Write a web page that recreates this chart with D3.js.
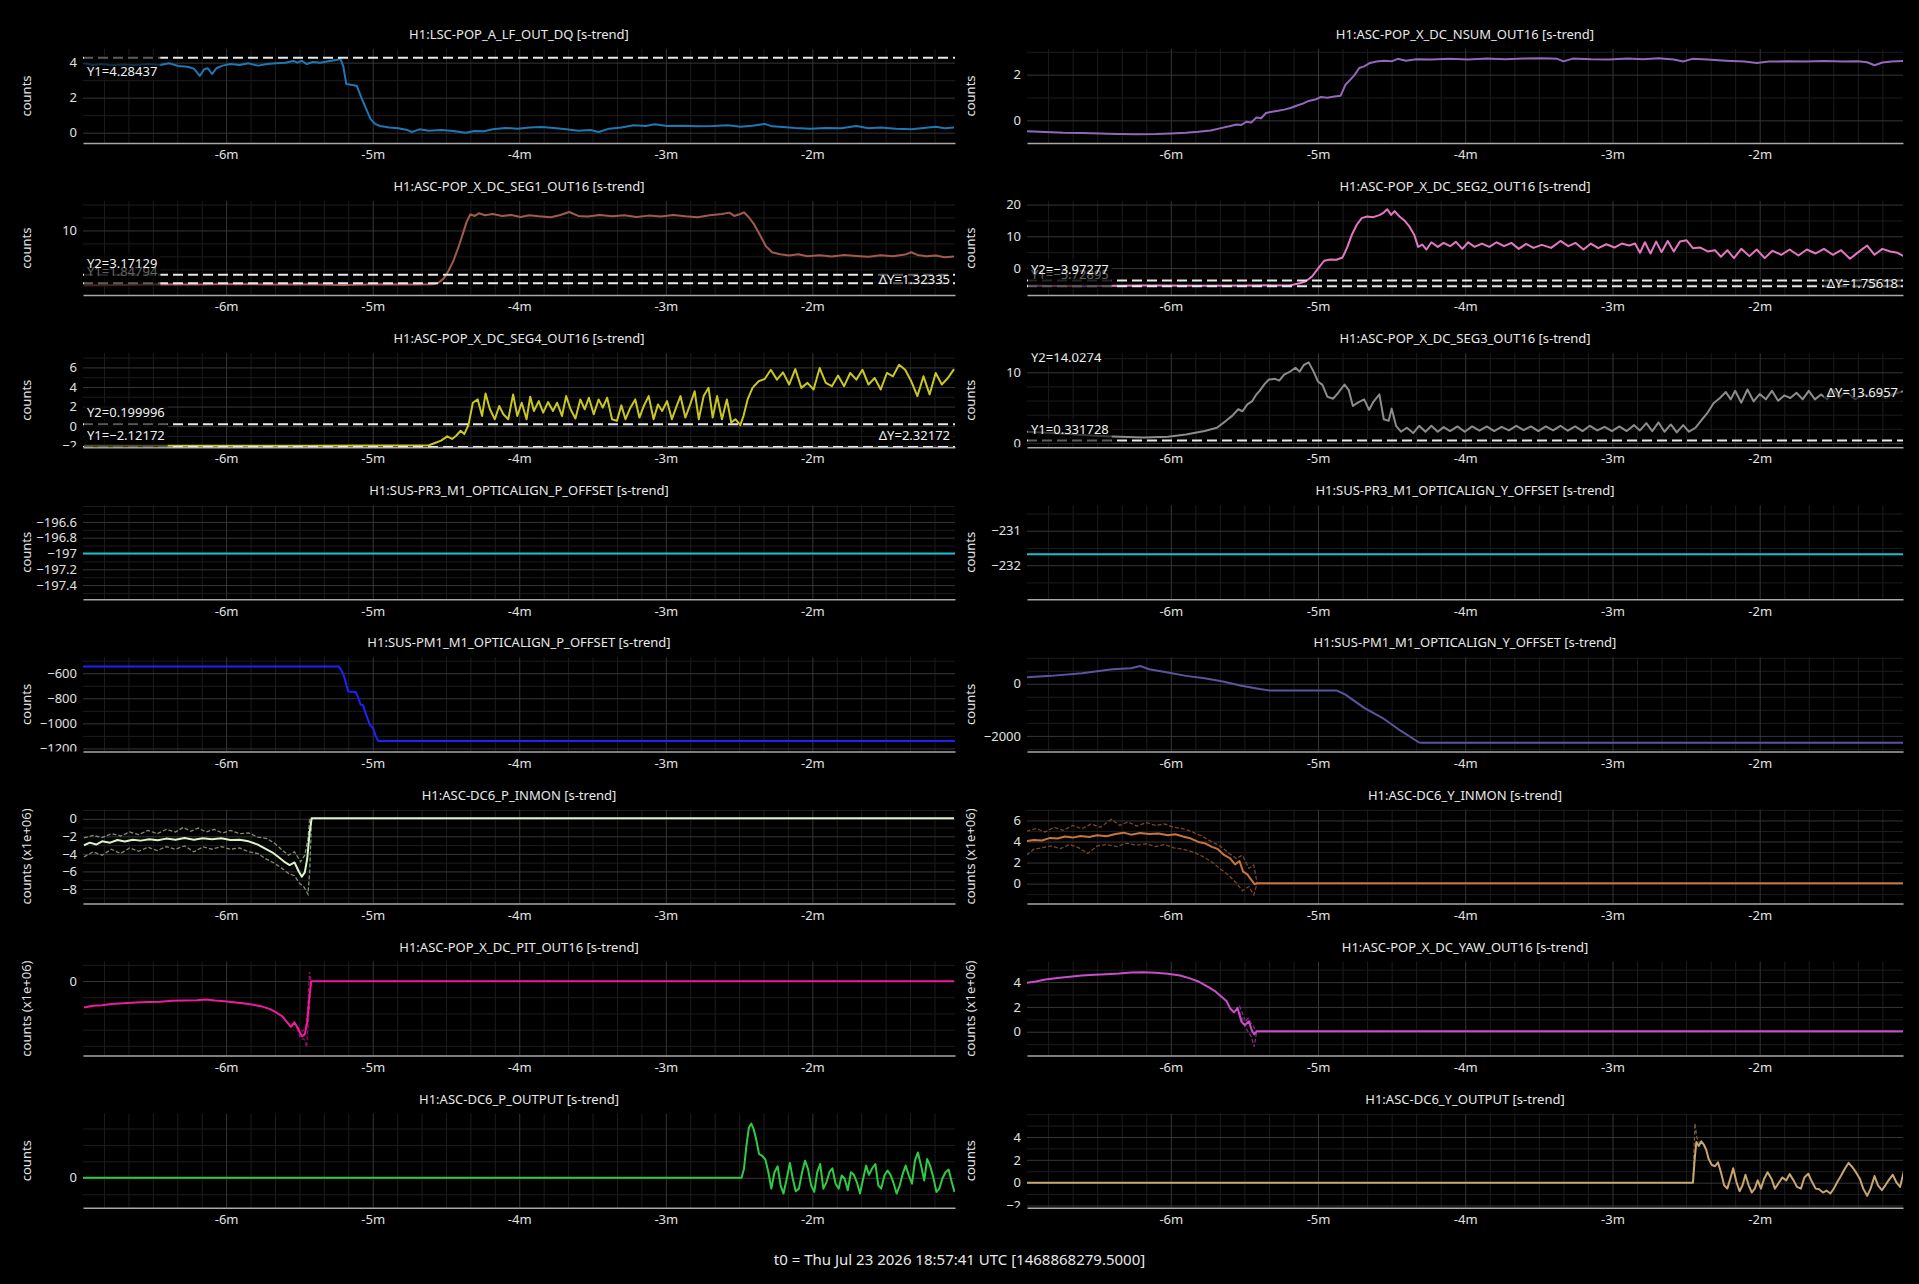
<!DOCTYPE html>
<html>
<head>
<meta charset="utf-8">
<script src="https://cdn.jsdelivr.net/npm/d3@7"></script>
<style>
  body { margin: 0; background: #000; }
  svg { display: block; }
</style>
</head>
<body>
<svg id="chart"></svg>
<script>
// time axis, seconds relative to t0
const xDomain = [-418.6, -61.6];
const xMajor = [-360, -300, -240, -180, -120];
const xMajorLabels = ["-6m", "-5m", "-4m", "-3m", "-2m"];
const footer = "t0 = Thu Jul 23 2026 18:57:41 UTC [1468868279.5000]";

const titles = [
  "H1:LSC-POP_A_LF_OUT_DQ [s-trend]", "H1:ASC-POP_X_DC_NSUM_OUT16 [s-trend]",
  "H1:ASC-POP_X_DC_SEG1_OUT16 [s-trend]", "H1:ASC-POP_X_DC_SEG2_OUT16 [s-trend]",
  "H1:ASC-POP_X_DC_SEG4_OUT16 [s-trend]", "H1:ASC-POP_X_DC_SEG3_OUT16 [s-trend]",
  "H1:SUS-PR3_M1_OPTICALIGN_P_OFFSET [s-trend]", "H1:SUS-PR3_M1_OPTICALIGN_Y_OFFSET [s-trend]",
  "H1:SUS-PM1_M1_OPTICALIGN_P_OFFSET [s-trend]", "H1:SUS-PM1_M1_OPTICALIGN_Y_OFFSET [s-trend]",
  "H1:ASC-DC6_P_INMON [s-trend]", "H1:ASC-DC6_Y_INMON [s-trend]",
  "H1:ASC-POP_X_DC_PIT_OUT16 [s-trend]", "H1:ASC-POP_X_DC_YAW_OUT16 [s-trend]",
  "H1:ASC-DC6_P_OUTPUT [s-trend]", "H1:ASC-DC6_Y_OUTPUT [s-trend]"
];

// ---- LSC-POP_A_LF
const lfT = [-418.2,-414.5,-410.8,-407,-402,-397,-392,-387,-383.2,-379.5,-375.8,-373.2,-370.8,-369,-367.5,-365.8,-364,-361.5,-358.2,-354.5,-350.8,-347,-343.2,-339.5,-335.8,-332.5,-330.8,-329,-327,-324.5,-321.5,-318.2,-315,-313.2,-312,-310.8,-308.2,-306.5,-304.5,-302.5,-300.8,-299,-297,-293.2,-289.5,-285.8,-284,-280.8,-277,-272,-267,-262,-258.2,-254.5,-250.8,-245.8,-240.8,-235.8,-230.8,-225.8,-220.8,-215.8,-210.8,-207.5,-203.2,-198.2,-193.2,-188.2,-184.5,-179.5,-173.2,-167,-160.8,-154.5,-149.5,-144.5,-139.5,-136.5,-132,-127,-120.8,-114.5,-108.2,-102,-97,-92,-85.8,-79.5,-74.5,-69.5,-65.8,-62];
const lfV = [3.96,3.87,3.92,3.85,3.90,3.87,3.92,3.87,3.96,3.81,3.77,3.66,3.24,3.62,3.68,3.35,3.68,3.83,3.92,3.87,3.96,3.83,3.92,3.96,4.00,4.10,4.00,4.11,3.92,4.04,4.00,4.08,4.15,4.21,3.77,2.78,2.72,2.67,1.96,1.30,0.76,0.50,0.38,0.30,0.25,0.15,0.04,0.19,0.11,0.15,0.10,0.00,0.10,0.08,0.19,0.27,0.23,0.29,0.32,0.27,0.19,0.11,0.15,0.04,0.23,0.30,0.42,0.38,0.48,0.38,0.40,0.36,0.38,0.42,0.34,0.40,0.50,0.36,0.32,0.27,0.23,0.27,0.25,0.38,0.25,0.29,0.23,0.19,0.27,0.34,0.25,0.29];

// ---- NSUM
const nsumT = [-418.8,-411.2,-403.8,-396.2,-388.8,-381.2,-373.8,-366.2,-360,-353.8,-348.8,-343.8,-340,-336.2,-333.2,-331.2,-329.2,-327.2,-325.2,-323.2,-321.2,-318.8,-316.2,-313.8,-311.2,-308.8,-306.2,-303.8,-301.2,-298.8,-296.2,-293.2,-290.8,-288.8,-286.8,-285,-283.2,-281.2,-278.8,-276.2,-273.2,-270,-267.5,-264.2,-260,-253.8,-246.2,-238.8,-231.2,-223.8,-216.2,-208.8,-202.5,-200,-196.2,-188.8,-181.2,-173.8,-167.5,-161.2,-155,-151.2,-147.5,-141.2,-133.8,-126.2,-121.2,-116.2,-108.8,-101.2,-93.8,-86.2,-80,-76.2,-73.2,-70,-66.2,-61];
const nsumV = [-0.48,-0.51,-0.54,-0.55,-0.58,-0.60,-0.61,-0.60,-0.57,-0.54,-0.50,-0.44,-0.35,-0.26,-0.18,-0.20,-0.06,-0.09,0.12,0.09,0.32,0.38,0.42,0.47,0.54,0.64,0.73,0.85,0.91,1.02,0.99,1.04,1.08,1.56,1.78,2.00,2.29,2.36,2.51,2.57,2.61,2.58,2.69,2.61,2.67,2.66,2.69,2.66,2.70,2.67,2.70,2.72,2.69,2.58,2.70,2.67,2.66,2.70,2.67,2.72,2.66,2.57,2.69,2.66,2.61,2.57,2.51,2.57,2.58,2.57,2.60,2.57,2.58,2.54,2.41,2.53,2.57,2.60];

// ---- SEG1
const seg1T = [-418.2,-402,-387,-372,-357,-342,-327,-312,-297,-282,-275,-273,-271,-269,-267,-265,-263,-261.5,-260,-258.2,-256.5,-254,-250.8,-247,-243.2,-239.5,-235.8,-232,-227,-223.2,-219.5,-215.8,-212,-207,-202,-197,-192,-187,-182,-177,-172,-167,-162,-157,-154,-152,-149.5,-148,-146,-144,-141.5,-139,-136.5,-133.2,-129.5,-125.8,-122,-117,-112,-107,-102,-97,-92,-87,-82,-79.5,-77,-73.2,-69.5,-65.8,-62];
const seg1V = [1.55,1.60,1.70,1.65,1.76,1.65,1.70,1.60,1.70,1.65,1.70,1.96,2.57,3.74,5.27,7.30,9.59,11.37,12.49,12.24,12.65,12.34,12.54,12.24,12.39,12.09,12.34,12.19,12.04,12.39,12.85,12.24,12.14,12.39,12.19,12.34,12.09,12.29,12.14,12.39,12.19,12.04,12.34,12.54,12.75,12.24,12.54,12.80,12.04,11.02,9.34,7.56,6.64,6.34,6.13,6.34,6.03,6.18,5.98,6.23,6.08,5.93,6.18,6.03,6.28,6.64,6.23,6.03,6.13,5.88,5.98];

// ---- SEG2
const seg2T = [-418.8,-396.2,-371.2,-346.2,-326.2,-311.2,-307.5,-305,-302.5,-300,-297.5,-295,-292.5,-290,-288.2,-286.2,-284.2,-282.2,-280,-277.5,-275,-273.2,-271.8,-270.2,-268.8,-266.8,-264.8,-262.8,-260.8,-259.2,-257.5,-255.8,-253.8,-251.2,-248.8,-246.2,-243.8,-241.2,-238.8,-236.2,-233.2,-230.2,-227.2,-224.2,-221.2,-218.2,-215.2,-212.2,-208.8,-205,-201.2,-198,-195,-191.8,-188.8,-185.8,-182.5,-179.2,-176.2,-173.2,-170.8,-168.8,-166.8,-164.5,-162.2,-160,-157.5,-155,-152.5,-149.8,-147.2,-144.2,-141.2,-138.2,-135.8,-133.2,-130.5,-127.5,-124.2,-121.2,-118,-114.8,-111.2,-107.8,-104.2,-100.8,-97.2,-93.8,-90.2,-86.8,-83.2,-79.8,-76.2,-73.2,-70,-66.8,-63.8,-61];
const seg2V = [-5.63,-5.73,-5.52,-5.63,-5.52,-5.42,-4.79,-4.17,-2.71,-0.21,2.29,2.71,2.60,3.33,6.35,10.52,13.65,15.73,16.25,16.04,16.67,17.50,18.54,16.77,17.92,16.25,15.00,13.12,10.52,6.67,7.40,5.83,8.12,6.67,7.92,6.88,8.23,6.04,8.12,6.67,7.71,6.67,8.12,6.88,7.92,6.04,7.60,6.35,7.29,6.35,8.54,6.88,7.92,5.83,7.71,6.25,7.50,6.46,7.71,7.08,7.71,4.79,8.12,4.58,8.33,5.00,8.54,5.21,8.33,8.75,6.25,6.46,5.21,5.62,3.54,5.62,3.12,6.04,3.75,5.83,3.12,5.42,4.17,5.83,3.96,5.83,4.58,6.04,4.17,5.62,2.92,5.00,7.08,4.17,6.04,5.21,4.79,3.54];

// ---- SEG4
const seg4T = [-418.2,-377,-327,-277,-274.5,-272,-269.5,-267.5,-265.8,-264,-262.5,-260.8,-259,-257,-255.2,-253.8,-252,-250,-248.2,-246.5,-244.5,-242.5,-240.8,-239,-237,-235.5,-234,-232,-230.2,-228.2,-226.2,-224.5,-222.5,-220.8,-219,-217,-215,-213.2,-211.5,-209.5,-207.5,-205.8,-204,-202,-200,-198.2,-196.5,-194.5,-192.5,-190.8,-189,-187,-185,-183.2,-181.5,-179.5,-177.5,-175.8,-174,-172,-170,-168.2,-166.5,-164.5,-162.5,-160.8,-159,-157,-155,-153.2,-151.5,-149.5,-148.2,-146.5,-144.5,-142,-139.5,-137,-134.5,-132,-129.5,-127,-124.5,-122,-119.5,-117,-114.5,-112,-109.5,-107,-104.5,-102,-99.5,-97,-94.5,-92,-89.5,-87,-84.5,-82,-79.5,-77,-74.5,-72,-69.5,-67,-64.5,-62];
const seg4V = [-1.99,-1.99,-1.99,-1.95,-1.72,-1.48,-1.04,-1.31,-0.98,-0.47,-0.81,0.10,2.39,2.73,1.04,3.34,1.72,0.71,2.06,1.21,0.71,3.24,1.04,2.39,0.71,3.00,1.55,2.56,1.38,2.46,1.55,2.39,1.04,3.07,1.72,0.78,2.73,1.72,2.90,1.21,2.73,1.89,2.90,0.71,0.54,2.12,0.71,1.89,2.73,0.88,2.06,3.07,0.71,2.22,1.55,2.56,0.71,1.89,3.07,0.88,2.22,3.57,0.71,3.07,3.91,0.88,3.07,0.71,2.73,0.37,0.71,0.10,1.04,2.73,3.91,4.58,4.82,5.76,4.75,5.49,4.25,5.83,3.91,4.42,3.74,5.93,4.42,4.08,5.16,4.08,5.43,4.75,5.76,4.25,4.92,3.74,5.43,5.09,6.27,5.76,4.58,3.07,5.09,3.24,5.43,4.25,4.92,5.83];

// ---- SEG3
const seg3T = [-418.8,-408.8,-396.2,-383.8,-371.2,-361.2,-353.8,-346.2,-341.2,-337.5,-335,-332.5,-330.8,-328.8,-326.8,-325,-323.8,-321.8,-320,-317.5,-315.8,-313.8,-311.2,-309.2,-307.5,-305.8,-303.8,-301.8,-300,-298.2,-296.2,-293.8,-291.8,-289.2,-287.5,-285.8,-283.8,-281.2,-279.2,-277.5,-275,-273.2,-271.2,-270,-268.2,-266.2,-263.8,-261.2,-258.8,-256.2,-253.8,-251.2,-248.8,-246.2,-243.2,-240.2,-237.2,-234.2,-231.2,-228.2,-225.2,-222.2,-219.2,-216.2,-213.2,-210.2,-207.2,-204.2,-201.2,-198.2,-195.2,-192.2,-189.2,-186.2,-183.2,-180.2,-177.2,-174.2,-171.2,-168.8,-166.2,-163.8,-161.2,-158.8,-156.2,-153.8,-151.2,-148.8,-146.2,-143.8,-141.2,-138.8,-136.2,-133.8,-131.8,-130,-127.5,-125,-122.5,-120,-117.5,-115,-112.5,-110,-107.5,-105,-102.5,-100,-97.5,-95,-92.5,-90,-87.5,-85,-81.2,-77.5,-73.8,-71.2,-68.8,-66.2,-61];
const seg3V = [1.59,1.40,1.12,0.93,0.79,0.89,1.21,1.68,2.15,3.13,3.83,4.77,4.49,5.47,5.93,6.92,7.38,8.32,8.97,9.07,8.83,9.67,10.14,10.65,10.09,11.03,11.40,10.09,8.69,8.22,6.54,6.26,7.10,8.27,7.48,5.23,5.70,6.17,4.67,5.79,6.87,3.36,3.13,4.86,2.43,1.59,2.15,1.40,2.43,1.59,2.43,1.59,2.24,1.68,2.34,1.59,2.34,1.73,2.34,1.68,2.29,1.78,2.43,1.82,2.34,1.68,2.34,1.78,2.43,1.73,2.34,1.68,2.43,1.78,2.29,1.68,2.34,1.68,2.52,1.78,2.80,1.68,2.90,1.59,2.62,1.50,2.52,1.59,2.15,3.18,4.30,5.61,6.36,7.20,6.17,7.38,5.70,7.57,5.89,6.92,6.17,7.38,5.98,6.73,6.36,7.10,6.17,7.38,6.17,6.87,6.17,7.57,6.36,7.34,6.17,6.82,6.54,7.10,6.36,6.82,7.38];

// ---- PR3 offsets (constant)
const pr3pT = [-418.6, -61.6];
const pr3pV = [-197, -197];
const pr3yT = [-418.6, -61.6];
const pr3yV = [-231.68, -231.68];

// ---- PM1 P offset
const pm1pT = [-418.6,-313.8,-312.2,-311.5,-310,-307,-306,-305,-304,-302.5,-301.2,-299.8,-298.8,-297.8,-61.6];
const pm1pV = [-547,-547,-600,-640,-745,-750,-790,-850,-855,-940,-1010,-1040,-1100,-1140,-1140];

// ---- PM1 Y offset
const pm1yT = [-418.8,-408.8,-396.2,-383.8,-376.2,-372.5,-368.8,-361.2,-353.8,-346.2,-338.8,-331.2,-323.8,-320,-292.5,-288.8,-281.2,-273.8,-266.2,-258.8,-257.5,-61];
const pm1yV = [253,304,405,557,595,684,557,430,304,215,89,-76,-203,-253,-253,-418,-924,-1304,-1810,-2253,-2266,-2266];

// ---- DC6_P_INMON (x1e+06): mean, max, min
const dc6pT = [-418.2,-415.8,-413.2,-410.8,-407.5,-404.5,-401.5,-398.2,-395,-391.5,-388,-384.5,-380.8,-377,-373.2,-369.5,-365.8,-362,-358.2,-354.5,-350.8,-347,-344,-341,-338.2,-335.8,-334,-332,-330.2,-329,-327.8,-326.8,-325.8,-325,-62];
const dc6pV = [-3.02,-2.72,-2.94,-2.57,-2.72,-2.42,-2.60,-2.38,-2.49,-2.34,-2.45,-2.26,-2.38,-2.19,-2.38,-2.23,-2.34,-2.23,-2.42,-2.38,-2.57,-2.94,-3.40,-3.85,-4.45,-4.98,-5.28,-4.98,-6.04,-6.60,-6.11,-4.53,-1.51,0.05,0.05];
const dc6pMaxT = [-418.2,-414.5,-410.8,-407,-403.2,-399.5,-395.8,-392,-388.2,-384.5,-380.8,-377.5,-374.5,-371.5,-368.2,-365,-361.5,-358.2,-354.5,-350.8,-347,-343.2,-340,-337,-334.5,-332,-329.5,-327.8,-326.5,-325.8];
const dc6pMaxV = [-2.19,-1.89,-2.15,-1.70,-1.96,-1.51,-1.81,-1.32,-1.70,-1.21,-1.51,-0.98,-1.43,-1.06,-1.51,-1.21,-1.62,-1.32,-1.70,-1.62,-2.08,-2.26,-2.83,-3.58,-4.15,-3.77,-4.91,-4.15,-2.26,0.05];
const dc6pMinT = [-418.2,-414.5,-410.8,-407,-403.2,-399.5,-395.8,-392,-388.2,-384.5,-380.8,-377,-373.2,-369.5,-365.8,-362,-358.2,-354.5,-350.8,-347,-344,-340.8,-337.5,-334.5,-332,-330,-328.2,-326.5,-325.8,-325];
const dc6pMinV = [-4.34,-3.77,-4.15,-3.47,-3.96,-3.32,-3.70,-3.25,-3.62,-3.17,-3.47,-3.09,-3.77,-3.21,-3.47,-3.17,-3.47,-3.32,-3.77,-3.96,-4.53,-4.98,-5.58,-6.23,-6.49,-7.36,-7.74,-8.60,-6.04,0.05];

// ---- DC6_Y_INMON (x1e+06): mean, max, min
const dc6yT = [-418.8,-415.8,-412.5,-409.2,-406.2,-403.2,-400,-396.8,-393.2,-390,-386.2,-382.5,-379.2,-376.2,-372.5,-368.8,-365,-361.2,-358.2,-355,-351.8,-348.8,-346.2,-343.2,-340.8,-338.2,-335.8,-333.8,-332,-330.5,-328.8,-327.2,-325.8,-324.8,-61];
const dc6yV = [4.03,4.15,4.09,4.34,4.28,4.47,4.37,4.53,4.43,4.59,4.50,4.72,4.84,4.65,4.81,4.72,4.75,4.59,4.69,4.47,4.28,3.96,3.84,3.49,3.27,2.70,2.39,1.82,2.14,1.13,0.88,0.35,-0.06,0.03,0.03];
const dc6yMaxT = [-418.8,-415,-411.2,-407.5,-403.8,-400,-396.2,-392.5,-388.8,-384.2,-380.8,-377.5,-373.8,-370,-366.2,-362.5,-358.8,-355,-351.2,-347.5,-343.8,-340,-336.2,-333.2,-330.8,-328.2,-326.2,-324.8];
const dc6yMaxV = [4.97,5.22,4.91,5.35,5.06,5.53,5.22,5.66,5.35,6.10,5.53,5.85,5.47,5.79,5.53,5.66,5.35,5.22,4.91,4.53,4.03,3.58,2.86,2.39,2.70,1.45,1.76,0.03];
const dc6yMinT = [-418.8,-415.8,-412.5,-408.8,-405,-401.2,-397.5,-393.8,-390,-386.2,-381.8,-378.2,-373.8,-370,-366.2,-362.5,-358.8,-355,-351.2,-347.5,-343.8,-340,-336.2,-333.2,-330.8,-328.2,-326.2,-324.8];
const dc6yMinV = [2.70,3.27,3.40,3.58,3.33,3.71,3.40,2.86,3.58,3.71,3.52,3.84,3.65,3.77,3.52,3.71,3.40,3.27,3.02,2.64,2.14,1.45,0.75,0.03,-0.69,-0.28,-1.07,0.03];

// ---- PIT_OUT16 (x1e+06)
const pitT = [-418.2,-414.5,-410.8,-407,-402,-397,-392,-387,-382,-377,-372,-368.2,-364.5,-360.8,-357,-353.2,-349.5,-345.8,-342,-339.5,-337,-335,-333.5,-332,-330.5,-329,-327.8,-326.8,-326,-325.2,-62];
const pitV = [-1.63,-1.53,-1.49,-1.41,-1.37,-1.33,-1.29,-1.27,-1.22,-1.20,-1.18,-1.14,-1.20,-1.24,-1.31,-1.37,-1.45,-1.55,-1.73,-1.94,-2.18,-2.55,-2.82,-2.55,-2.96,-3.41,-3.29,-2.55,-1.12,-0.02,-0.02];
const pitMinT = [-331, -329.5, -328, -327, -326.2, -325.2];
const pitMinV = [-2.9, -3.55, -3.6, -4.08, -2.2, -0.02];
const pitMaxT = [-331, -329, -327.5, -326.5, -325.9, -325.2];
const pitMaxV = [-2.8, -3.1, -2.9, -1.5, 0.55, -0.02];

// ---- YAW_OUT16 (x1e+06)
const yawT = [-418.8,-415,-411.2,-406.2,-401.2,-396.2,-391.2,-386.2,-381.2,-376.2,-371.2,-366.2,-361.2,-356.2,-352.5,-348.8,-345,-341.8,-339.2,-337.2,-335.8,-334.2,-332.8,-331.2,-329.8,-328.2,-327,-326,-325,-61];
const yawV = [3.95,4.05,4.21,4.32,4.43,4.53,4.59,4.64,4.69,4.77,4.80,4.75,4.67,4.53,4.32,4.05,3.63,3.25,2.80,2.45,1.87,1.55,1.92,0.80,0.53,0.85,0.13,-0.21,0.05,0.05];
const yawMinT = [-332, -329.5, -327.2, -326, -325];
const yawMinV = [1.6, 0.3, -0.4, -1.2, 0.05];
const yawMaxT = [-332, -329.5, -328.5, -326.8, -325];
const yawMaxV = [2.1, 0.8, 1.07, 0.55, 0.05];

// ---- DC6_P_OUTPUT
const dc6pOutT = [-418.6,-149,-148,-147,-146,-145,-144,-143,-141.8,-140.5,-139.2,-138,-136.8,-135.5,-134.2,-133,-131.8,-130.5,-129.2,-128,-126.8,-125.5,-124.2,-123,-121.8,-120.5,-119.2,-118,-116.8,-115.5,-114.2,-113,-111.8,-110.5,-109.2,-108,-106.8,-105.5,-104.2,-103,-101.8,-100.5,-99.2,-98,-96.8,-95.5,-94.2,-93,-91.8,-90.5,-89.2,-88,-86.8,-85.5,-84.2,-83,-81.8,-80.5,-79.2,-78,-76.8,-75.5,-74.2,-73,-71.8,-70.5,-69.2,-68,-66.8,-65.5,-64.2,-63,-61.8];
const dc6pOutV = [0,0,13.5,48.5,76,82.5,73.5,58.5,36,33.5,27.5,8.5,-16.5,8.5,17.5,-11.5,-24,-1.5,22.5,-1.5,-20.5,-16.5,8.5,26,13.5,-11.5,-21.5,8.5,21,-16.5,-6.5,8.5,14.5,-9,-16.5,3.5,-1.5,-19,8.5,4.5,-6.5,-24,-1.5,18.5,4.5,14.5,21,-11.5,-16.5,3.5,11,4.5,-7.5,-24,-11.5,6,18.5,3.5,-9,26,38.5,18.5,-4,28.5,18.5,1,-21.5,-16.5,-1.5,8.5,12.5,-5.5,-21.5];

// ---- DC6_Y_OUTPUT
const dc6yOutT = [-418.6,-147.2,-146.5,-145.8,-144.8,-143.8,-142.8,-141.8,-140.8,-139.5,-138.2,-137,-135.8,-134.5,-133.2,-132,-130.8,-129.5,-128.2,-127,-125.8,-124.5,-123.2,-122,-120.8,-119.5,-118.2,-116.8,-115.2,-113.8,-112.2,-110.8,-109.2,-107.8,-106.2,-104.8,-103.2,-101.8,-100.2,-98.8,-97.2,-95.8,-94.2,-92.8,-91.2,-89.8,-88.2,-86.8,-85.2,-83.8,-82.2,-80.8,-79.2,-77.8,-76.2,-74.8,-73.2,-71.8,-70.2,-68.8,-67.2,-65.8,-64.2,-62.8,-61.2];
const dc6yOutV = [0,0,2.07,3.57,3.22,3.63,3.34,2.88,2.07,1.55,1.44,1.78,0.92,-0.23,-0.52,0.35,1.27,0.06,-0.75,-0.23,0.69,-0.23,-0.86,-0.52,0.20,-0.52,0.35,0.92,0.35,-0.52,0,0.46,0.20,0.75,0.20,-0.37,-0.52,0.46,0.78,0.12,-0.52,-0.58,-0.86,-0.69,-0.95,-0.52,0.12,0.63,1.27,1.73,1.35,0.92,0.35,-0.52,-1.15,-0.52,0.58,-0.23,-0.66,-0.23,0.29,0.69,0,-0.37,1.04];
const dc6yOutMaxT = [-147.2, -146.4, -145.6, -144.6];
const dc6yOutMaxV = [0, 5.2, 3.9, 3.5];

// y ranges and tick values per panel
const yDomains = [[-0.59,4.78],[-0.99,3.12],[0.03,14.53],[-8.54,21.1],[-2.15,7.45],[-0.6,12.7],
  [-197.58,-196.39],[-232.99,-230.26],[-1223.7,-473.7],[-2595,1013],[-9.66,1.06],[-1.89,7.04],
  [-4.6,1.2],[-1.92,5.65],[-45.5,97.5],[-2.19,6.04]];
const yTicks = [[0,2,4],[0,2],[0,10],[0,10,20],[-2,0,2,4,6],[0,10],
  [-197.4,-197.2,-197,-196.8,-196.6],[-232,-231],[-1200,-1000,-800,-600],[-2000,0],
  [-8,-6,-4,-2,0],[0,2,4,6],[0],[0,2,4],[0],[-2,0,2,4]];
const yMinorStep = [1,1,2,5,1,2,0.1,0.5,100,500,1,1,1,1,25,1];

// cursors [name, value]
const lfCursors = [["Y1", 4.28437]];
const seg1Cursors = [["Y1", 1.84794], ["Y2", 3.17129]];
const seg2Cursors = [["Y1", -5.72895], ["Y2", -3.97277]];
const seg4Cursors = [["Y1", -2.12172], ["Y2", 0.199996]];
const seg3Cursors = [["Y1", 0.331728], ["Y2", 14.0274]];

const colors = ["#1f77b4","#9467bd","#a35a4c","#e377c2","#c8c820","#8c8c8c","#17becf","#17becf",
  "#2020ff","#5a559e","#dcf3c8","#c8743e","#f01aa0","#cc4ccc","#2ecc40","#c8a66e"];
const envColors = {10: "#7d8f70", 11: "#7a4528", 12: "#8c1060", 13: "#7a2e7a", 15: "#6e5a3a"};

const series = [
  [lfT, lfV], [nsumT, nsumV], [seg1T, seg1V], [seg2T, seg2V], [seg4T, seg4V], [seg3T, seg3V],
  [pr3pT, pr3pV], [pr3yT, pr3yV], [pm1pT, pm1pV], [pm1yT, pm1yV], [dc6pT, dc6pV], [dc6yT, dc6yV],
  [pitT, pitV], [yawT, yawV], [dc6pOutT, dc6pOutV], [dc6yOutT, dc6yOutV]
];
const envelopes = {
  10: [[dc6pMaxT, dc6pMaxV], [dc6pMinT, dc6pMinV]],
  11: [[dc6yMaxT, dc6yMaxV], [dc6yMinT, dc6yMinV]],
  12: [[pitMaxT, pitMaxV], [pitMinT, pitMinV]],
  13: [[yawMaxT, yawMaxV], [yawMinT, yawMinV]],
  15: [[dc6yOutMaxT, dc6yOutMaxV]]
};
const cursors = {0: lfCursors, 2: seg1Cursors, 3: seg2Cursors, 4: seg4Cursors, 5: seg3Cursors};
const bigUnits = [10, 11, 12, 13];

// layout
const W = 1919, H = 1284;
const font = "'Noto Sans', 'Open Sans', sans-serif";
const colLeft = [83, 1027], colWidth = [872, 876];
const firstBottom = 143, rowPitch = 152.1, plotH = 94;
const xMinor = d3.range(-410, -60, 10).filter(t => t % 60 !== 0);
const fmtTick = d3.format("~g");
const fmtCursor = d3.format(".6~g");

const svg = d3.select("#chart").attr("width", W).attr("height", H)
  .style("background", "#000").style("font-family", font);
const defs = svg.append("defs");

titles.forEach((title, i) => {
  const col = i % 2, row = Math.floor(i / 2);
  const x0 = colLeft[col], w = colWidth[col];
  const bottom = firstBottom + row * rowPitch, top = bottom - plotH;
  const x = d3.scaleLinear().domain(xDomain).range([x0, x0 + w]);
  const y = d3.scaleLinear().domain(yDomains[i]).range([bottom, top]);
  const g = svg.append("g");

  defs.append("clipPath").attr("id", "plot" + i).append("rect")
    .attr("x", x0).attr("y", top).attr("width", w).attr("height", plotH);
  // y label group is translated by x0, so this rect is in its local x
  defs.append("clipPath").attr("id", "ylab" + i).append("rect")
    .attr("x", -80).attr("y", top - 12).attr("width", 80).attr("height", plotH + 12);

  const [ylo, yhi] = yDomains[i];
  const step = yMinorStep[i];
  const yMinor = d3.range(Math.ceil(ylo / step) * step, yhi, step)
    .filter(v => !yTicks[i].some(t => Math.abs(t - v) < step / 100));
  const ticksIn = yTicks[i].filter(v => v >= ylo && v <= yhi);

  const grid = (sel, color) => {
    sel.select(".domain").remove();
    sel.selectAll("line").attr("stroke", color).attr("stroke-width", 1);
    sel.selectAll("text").remove();
  };
  g.append("g").attr("transform", `translate(0,${bottom})`)
    .call(d3.axisBottom(x).tickValues(xMinor).tickSize(-plotH))
    .call(s => grid(s, "#1c1c1c"));
  g.append("g").attr("transform", `translate(${x0},0)`)
    .call(d3.axisLeft(y).tickValues(yMinor).tickSize(-w))
    .call(s => grid(s, "#1c1c1c"));
  g.append("g").attr("transform", `translate(0,${bottom})`)
    .call(d3.axisBottom(x).tickValues(xMajor).tickSize(-plotH))
    .call(s => grid(s, "#363636"));
  g.append("g").attr("transform", `translate(${x0},0)`)
    .call(d3.axisLeft(y).tickValues(ticksIn).tickSize(-w))
    .call(s => grid(s, "#363636"));

  // x axis labels + bottom line
  const xa = g.append("g").attr("transform", `translate(0,${bottom})`)
    .call(d3.axisBottom(x).tickValues(xMajor).tickFormat((d, k) => xMajorLabels[k])
      .tickSize(0).tickPadding(7).tickSizeOuter(0));
  xa.select(".domain").attr("stroke", "#a8a8a8").attr("stroke-width", 1.5);
  xa.selectAll("text").attr("fill", "#e0e0e0").style("font-size", "13px").style("font-family", font);

  // y axis labels (cut at the bottom axis line, like the reference)
  const ya = g.append("g").attr("transform", `translate(${x0},0)`)
    .attr("clip-path", `url(#ylab${i})`)
    .call(d3.axisLeft(y).tickValues(ticksIn).tickFormat(fmtTick).tickSize(0).tickPadding(6));
  ya.select(".domain").remove();
  ya.selectAll("text").attr("fill", "#e0e0e0").style("font-size", "13px").style("font-family", font);

  // titles
  g.append("text").attr("x", x0 + w / 2).attr("y", top - 10)
    .attr("text-anchor", "middle").attr("fill", "#e8e8e8")
    .style("font-size", "13px").text(title);
  g.append("text")
    .attr("transform", `translate(${x0 - 57},${(top + bottom) / 2}) rotate(-90)`)
    .attr("text-anchor", "middle").attr("dy", "0.35em").attr("fill", "#e0e0e0")
    .style("font-size", "13px")
    .text(bigUnits.includes(i) ? "counts (x1e+06)" : "counts");

  // traces
  const plot = g.append("g").attr("clip-path", `url(#plot${i})`);
  const line = d3.line().x(d => x(d[0])).y(d => y(d[1]));
  (envelopes[i] || []).forEach(([et, ev]) => {
    plot.append("path").datum(d3.zip(et, ev)).attr("d", line)
      .attr("fill", "none").attr("stroke", envColors[i]).attr("stroke-width", 1.3)
      .attr("stroke-dasharray", "4,2");
  });
  const [st, sv] = series[i];
  plot.append("path").datum(d3.zip(st, sv)).attr("d", line)
    .attr("fill", "none").attr("stroke", colors[i]).attr("stroke-width", 2)
    .attr("stroke-linejoin", "round");

  // cursors
  const cs = cursors[i];
  if (cs) {
    cs.forEach(([name, v]) => {
      plot.append("line").attr("x1", x0).attr("x2", x0 + w)
        .attr("y1", y(v)).attr("y2", y(v))
        .attr("stroke", "#e8e8e8").attr("stroke-width", 2).attr("stroke-dasharray", "10,5");
    });
    const label = (txt, tx, ly, below, anchor) => {
      const lg = plot.append("g");
      const box = lg.append("rect").attr("fill", "rgba(0,0,0,0.6)");
      const t = lg.append("text").attr("x", tx).attr("text-anchor", anchor)
        .attr("fill", "#f0f0f0").style("font-size", "13px").text(txt);
      const tw = t.node().getComputedTextLength();
      const bx = anchor === "end" ? tx - tw - 3 : tx - 3;
      if (below === null) {
        t.attr("y", ly + 4.5);
        box.attr("x", bx).attr("y", ly - 9).attr("width", tw + 6).attr("height", 18);
      } else if (below) {
        t.attr("y", ly + 18);
        box.attr("x", bx).attr("y", ly - 3).attr("width", tw + 6).attr("height", 25);
      } else {
        t.attr("y", ly - 7);
        box.attr("x", bx).attr("y", ly - 22).attr("width", tw + 6).attr("height", 25);
      }
    };
    cs.forEach(([name, v]) => {
      const ly = y(v);
      label(`${name}=${fmtCursor(v)}`, x0 + 4, ly, ly - 24 < top, "start");
    });
    if (cs.length === 2) {
      const d = Math.abs(cs[1][1] - cs[0][1]);
      label(`ΔY=${fmtCursor(d)}`, x0 + w - 5, y((cs[0][1] + cs[1][1]) / 2), null, "end");
    }
  }
});

svg.append("text").attr("x", W / 2).attr("y", 1265).attr("text-anchor", "middle")
  .attr("fill", "#e8e8e8").style("font-size", "15px").text(footer);
</script>
</body>
</html>
